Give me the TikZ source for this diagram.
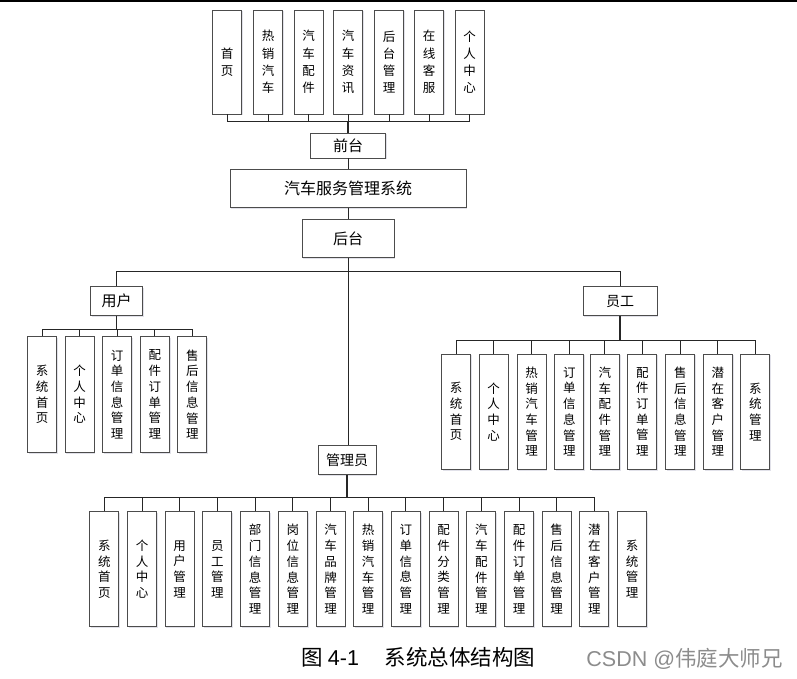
\documentclass[tikz,border=0pt]{standalone}
\usepackage{fontspec}
\setmainfont{Noto Sans CJK SC}
\newfontfamily\arialfont{Liberation Sans}
\usetikzlibrary{shadows}
\tikzset{
  box/.style={draw=black!70, line width=0.9pt, fill=white, inner sep=0pt,
    font=\fontsize{12.5}{15.7}\selectfont,
    drop shadow={shadow xshift=1.2pt, shadow yshift=-1.2pt, fill=blue!15!gray!40, opacity=0.5}},
  leaf/.style={box, minimum width=29pt, align=center},
  head/.style={box, minimum height=29pt, font=\fontsize{15}{17}\selectfont},
  wire/.style={line width=0.9pt, black!85},
}
\begin{document}
\begin{tikzpicture}[x=1pt, y=-1pt]
\useasboundingbox (0,0) rectangle (797,679);
\draw[line width=1.5pt] (0,1) -- (797,1);

% Frente
\foreach \i/\x/\t in {1/227/{首\\页}, 2/268/{热\\销\\汽\\车}, 3/308.5/{汽\\车\\配\\件},
    4/348/{汽\\车\\资\\讯}, 5/389/{后\\台\\管\\理}, 6/429/{在\\线\\客\\服}, 7/469.5/{个\\人\\中\\心}}
  \node[leaf, minimum height=104pt, font=\fontsize{12.5}{17.2}\selectfont] (f\i) at (\x,62) {\t};
\node[head, minimum width=75pt, minimum height=25pt] (front) at (348,145.5) {前台};
\node[head, minimum width=236pt, minimum height=38pt, font=\fontsize{16}{18}\selectfont] (sys) at (348,188.5) {汽车服务管理系统};
\node[head, minimum width=92pt, minimum height=38pt] (back) at (348,238.3) {后台};

\coordinate (fbus) at (0,121);
\foreach \i in {1,...,7}
  \draw[wire] (f\i.south) -- (f\i.south |- fbus);
\draw[wire] (f1.south |- fbus) -- (f7.south |- fbus);
\draw[wire, line width=1.4pt] (front.north) -- (front.north |- fbus);
\draw[wire] (front) -- (sys);
\draw[wire] (sys) -- (back);

% Roles
\node[head, minimum width=52pt] (user) at (116.7,301.3) {用户};
\node[head, minimum width=74pt, font=\fontsize{14}{16}\selectfont] (staff) at (620,301.3) {员工};
\node[head, minimum width=58pt, font=\fontsize{14}{16}\selectfont] (admin) at (347,460.3) {管理员};

\coordinate (hbus) at (0,271.7);
\draw[wire] (user.north) -- (user.north |- hbus) -- (staff.north |- hbus) -- (staff.north);
\draw[wire] (back.south) -- (back.south |- admin.north);

% Usuario
\foreach \i/\x/\t in {1/42/{系\\统\\首\\页}, 2/79.6/{个\\人\\中\\心}, 3/117.2/{订\\单\\信\\息\\管\\理},
    4/154.8/{配\\件\\订\\单\\管\\理}, 5/192.4/{售\\后\\信\\息\\管\\理}}
  \node[leaf, minimum height=115.6pt] (u\i) at (\x,394.5) {\t};
\coordinate (ubus) at (0,329);
\foreach \i in {1,...,5}
  \draw[wire] (u\i.north) -- (u\i.north |- ubus);
\draw[wire] (u1.north |- ubus) -- (u5.north |- ubus);
\draw[wire, line width=1.4pt] (user.south) -- (user.south |- ubus);

% Empleado
\foreach \i/\x/\t in {1/456/{系\\统\\首\\页}, 2/493.7/{个\\人\\中\\心}, 3/531.7/{热\\销\\汽\\车\\管\\理},
    4/569.3/{订\\单\\信\\息\\管\\理}, 5/604.8/{汽\\车\\配\\件\\管\\理}, 6/642.3/{配\\件\\订\\单\\管\\理},
    7/680.3/{售\\后\\信\\息\\管\\理}, 8/717.8/{潜\\在\\客\\户\\管\\理}, 9/755.4/{系\\统\\管\\理}}
  \node[leaf, minimum height=115.3pt] (s\i) at (\x,411.7) {\t};
\coordinate (sbus) at (0,340);
\foreach \i in {1,...,9}
  \draw[wire] (s\i.north) -- (s\i.north |- sbus);
\draw[wire] (s1.north |- sbus) -- (s9.north |- sbus);
\draw[wire, line width=1.4pt] (staff.south) -- (staff.south |- sbus);

% Administrador
\foreach \i/\x/\t in {1/104.3/{系\\统\\首\\页}, 2/142/{个\\人\\中\\心}, 3/179.7/{用\\户\\管\\理},
    4/217.4/{员\\工\\管\\理}, 5/255/{部\\门\\信\\息\\管\\理}, 6/292.8/{岗\\位\\信\\息\\管\\理},
    7/330.5/{汽\\车\\品\\牌\\管\\理}, 8/368.2/{热\\销\\汽\\车\\管\\理}, 9/405.9/{订\\单\\信\\息\\管\\理},
    10/443.6/{配\\件\\分\\类\\管\\理}, 11/481.3/{汽\\车\\配\\件\\管\\理}, 12/519/{配\\件\\订\\单\\管\\理},
    13/556.7/{售\\后\\信\\息\\管\\理}, 14/594.4/{潜\\在\\客\\户\\管\\理}, 15/632/{系\\统\\管\\理}}
  \node[leaf, minimum height=115pt] (a\i) at (\x,569.2) {\t};
\coordinate (abus) at (0,497.3);
\foreach \i in {1,...,14}
  \draw[wire] (a\i.north) -- (a\i.north |- abus);
\draw[wire] (a1.north |- abus) -- (a14.north |- abus);
\draw[wire, line width=1.4pt] (admin.south) -- (admin.south |- abus);

% Pie
\node[font=\fontsize{21.5}{24}\selectfont] (cap) at (418.5,657) {图 {\arialfont 4-1}\hspace{1.2em}系统总体结构图};
\node[font=\fontsize{21.5}{24}\selectfont, text=black!45] (mark) at (684.5,659) {{\arialfont CSDN @}伟庭大师兄};
\end{tikzpicture}
\end{document}
